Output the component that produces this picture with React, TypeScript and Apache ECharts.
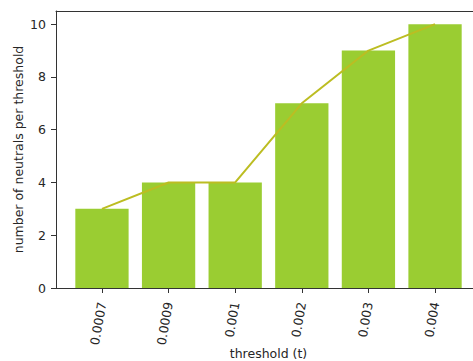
import React, { useEffect, useRef } from "react";
import * as echarts from "echarts";

// Thresholds tested and how many neutrals each one yields
const thresholds = ["0.0007", "0.0009", "0.001", "0.002", "0.003", "0.004"];
const neutralCounts = [3, 4, 4, 7, 9, 10];
const yTicks = [0, 2, 4, 6, 8, 10];

const W = 473;
const H = 361;
const GRID_LEFT = 56;
const GRID_TOP = 11;
const GRID_RIGHT_X = 481; // right spine sits just past the canvas edge
const GRID_BOTTOM_Y = 288;
const X_MIN = -0.69;
const X_MAX = 5.69;

const FONT = "DejaVu Sans";
const FONT_SIZE = 12.5;
const TEXT = "#262626";
const SPINE = "#333333";

export default function App() {
  const ref = useRef<HTMLDivElement>(null);

  useEffect(() => {
    if (!ref.current) return;
    const chart = echarts.init(ref.current, undefined, { renderer: "svg" });
    const plotWidth = GRID_RIGHT_X - GRID_LEFT;
    const barWidth = (plotWidth / (X_MAX - X_MIN)) * 0.8;
    const idx = thresholds.map((_, i) => i);
    const points = neutralCounts.map((v, i) => [i, v]);

    chart.setOption({
      animation: false,
      backgroundColor: "#ffffff",
      textStyle: { fontFamily: FONT },
      grid: {
        left: GRID_LEFT,
        top: GRID_TOP,
        right: W - GRID_RIGHT_X,
        bottom: H - GRID_BOTTOM_Y,
        containLabel: false,
        outerBoundsMode: "none",
      },
      xAxis: [
        {
          type: "value",
          min: X_MIN,
          max: X_MAX,
          position: "bottom",
          name: "threshold (t)",
          nameLocation: "middle",
          nameGap: 59,
          nameMoveOverlap: false,
          nameTextStyle: { fontFamily: FONT, fontSize: FONT_SIZE, color: TEXT },
          axisLine: {
            show: true,
            onZero: false,
            lineStyle: { color: SPINE, width: 1 },
          },
          axisTick: {
            show: true,
            length: 5,
            customValues: idx,
            lineStyle: { color: SPINE },
          },
          axisLabel: {
            show: true,
            customValues: idx,
            rotate: 80,
            margin: 14,
            fontFamily: FONT,
            fontSize: FONT_SIZE,
            color: TEXT,
            formatter: (v: number) => thresholds[Math.round(v)] ?? "",
          },
          splitLine: { show: false },
        },
        {
          type: "value",
          min: X_MIN,
          max: X_MAX,
          position: "top",
          axisLine: {
            show: true,
            onZero: false,
            lineStyle: { color: SPINE, width: 1 },
          },
          axisTick: { show: false },
          axisLabel: { show: false },
          splitLine: { show: false },
        },
      ],
      yAxis: {
        type: "value",
        min: 0,
        max: 10.5,
        position: "left",
        name: "number of neutrals per threshold",
        nameLocation: "middle",
        nameGap: 31,
        nameMoveOverlap: false,
        nameTextStyle: { fontFamily: FONT, fontSize: FONT_SIZE, color: TEXT },
        axisLine: {
          show: true,
          onZero: false,
          lineStyle: { color: SPINE, width: 1 },
        },
        axisTick: {
          show: true,
          length: 5,
          customValues: yTicks,
          lineStyle: { color: SPINE },
        },
        axisLabel: {
          show: true,
          customValues: yTicks,
          margin: 10,
          fontFamily: FONT,
          fontSize: FONT_SIZE,
          color: TEXT,
        },
        splitLine: { show: false },
      },
      series: [
        {
          type: "bar",
          xAxisIndex: 0,
          data: points,
          barWidth,
          itemStyle: { color: "#9acd32" },
          z: 2,
        },
        {
          type: "line",
          xAxisIndex: 0,
          data: points,
          symbol: "none",
          lineStyle: { color: "#bcbd22", width: 2 },
          z: 3,
        },
      ],
    });

    return () => chart.dispose();
  }, []);

  return (
    <div
      ref={ref}
      style={{ position: "absolute", left: 0, top: 0, width: W, height: H }}
    />
  );
}
